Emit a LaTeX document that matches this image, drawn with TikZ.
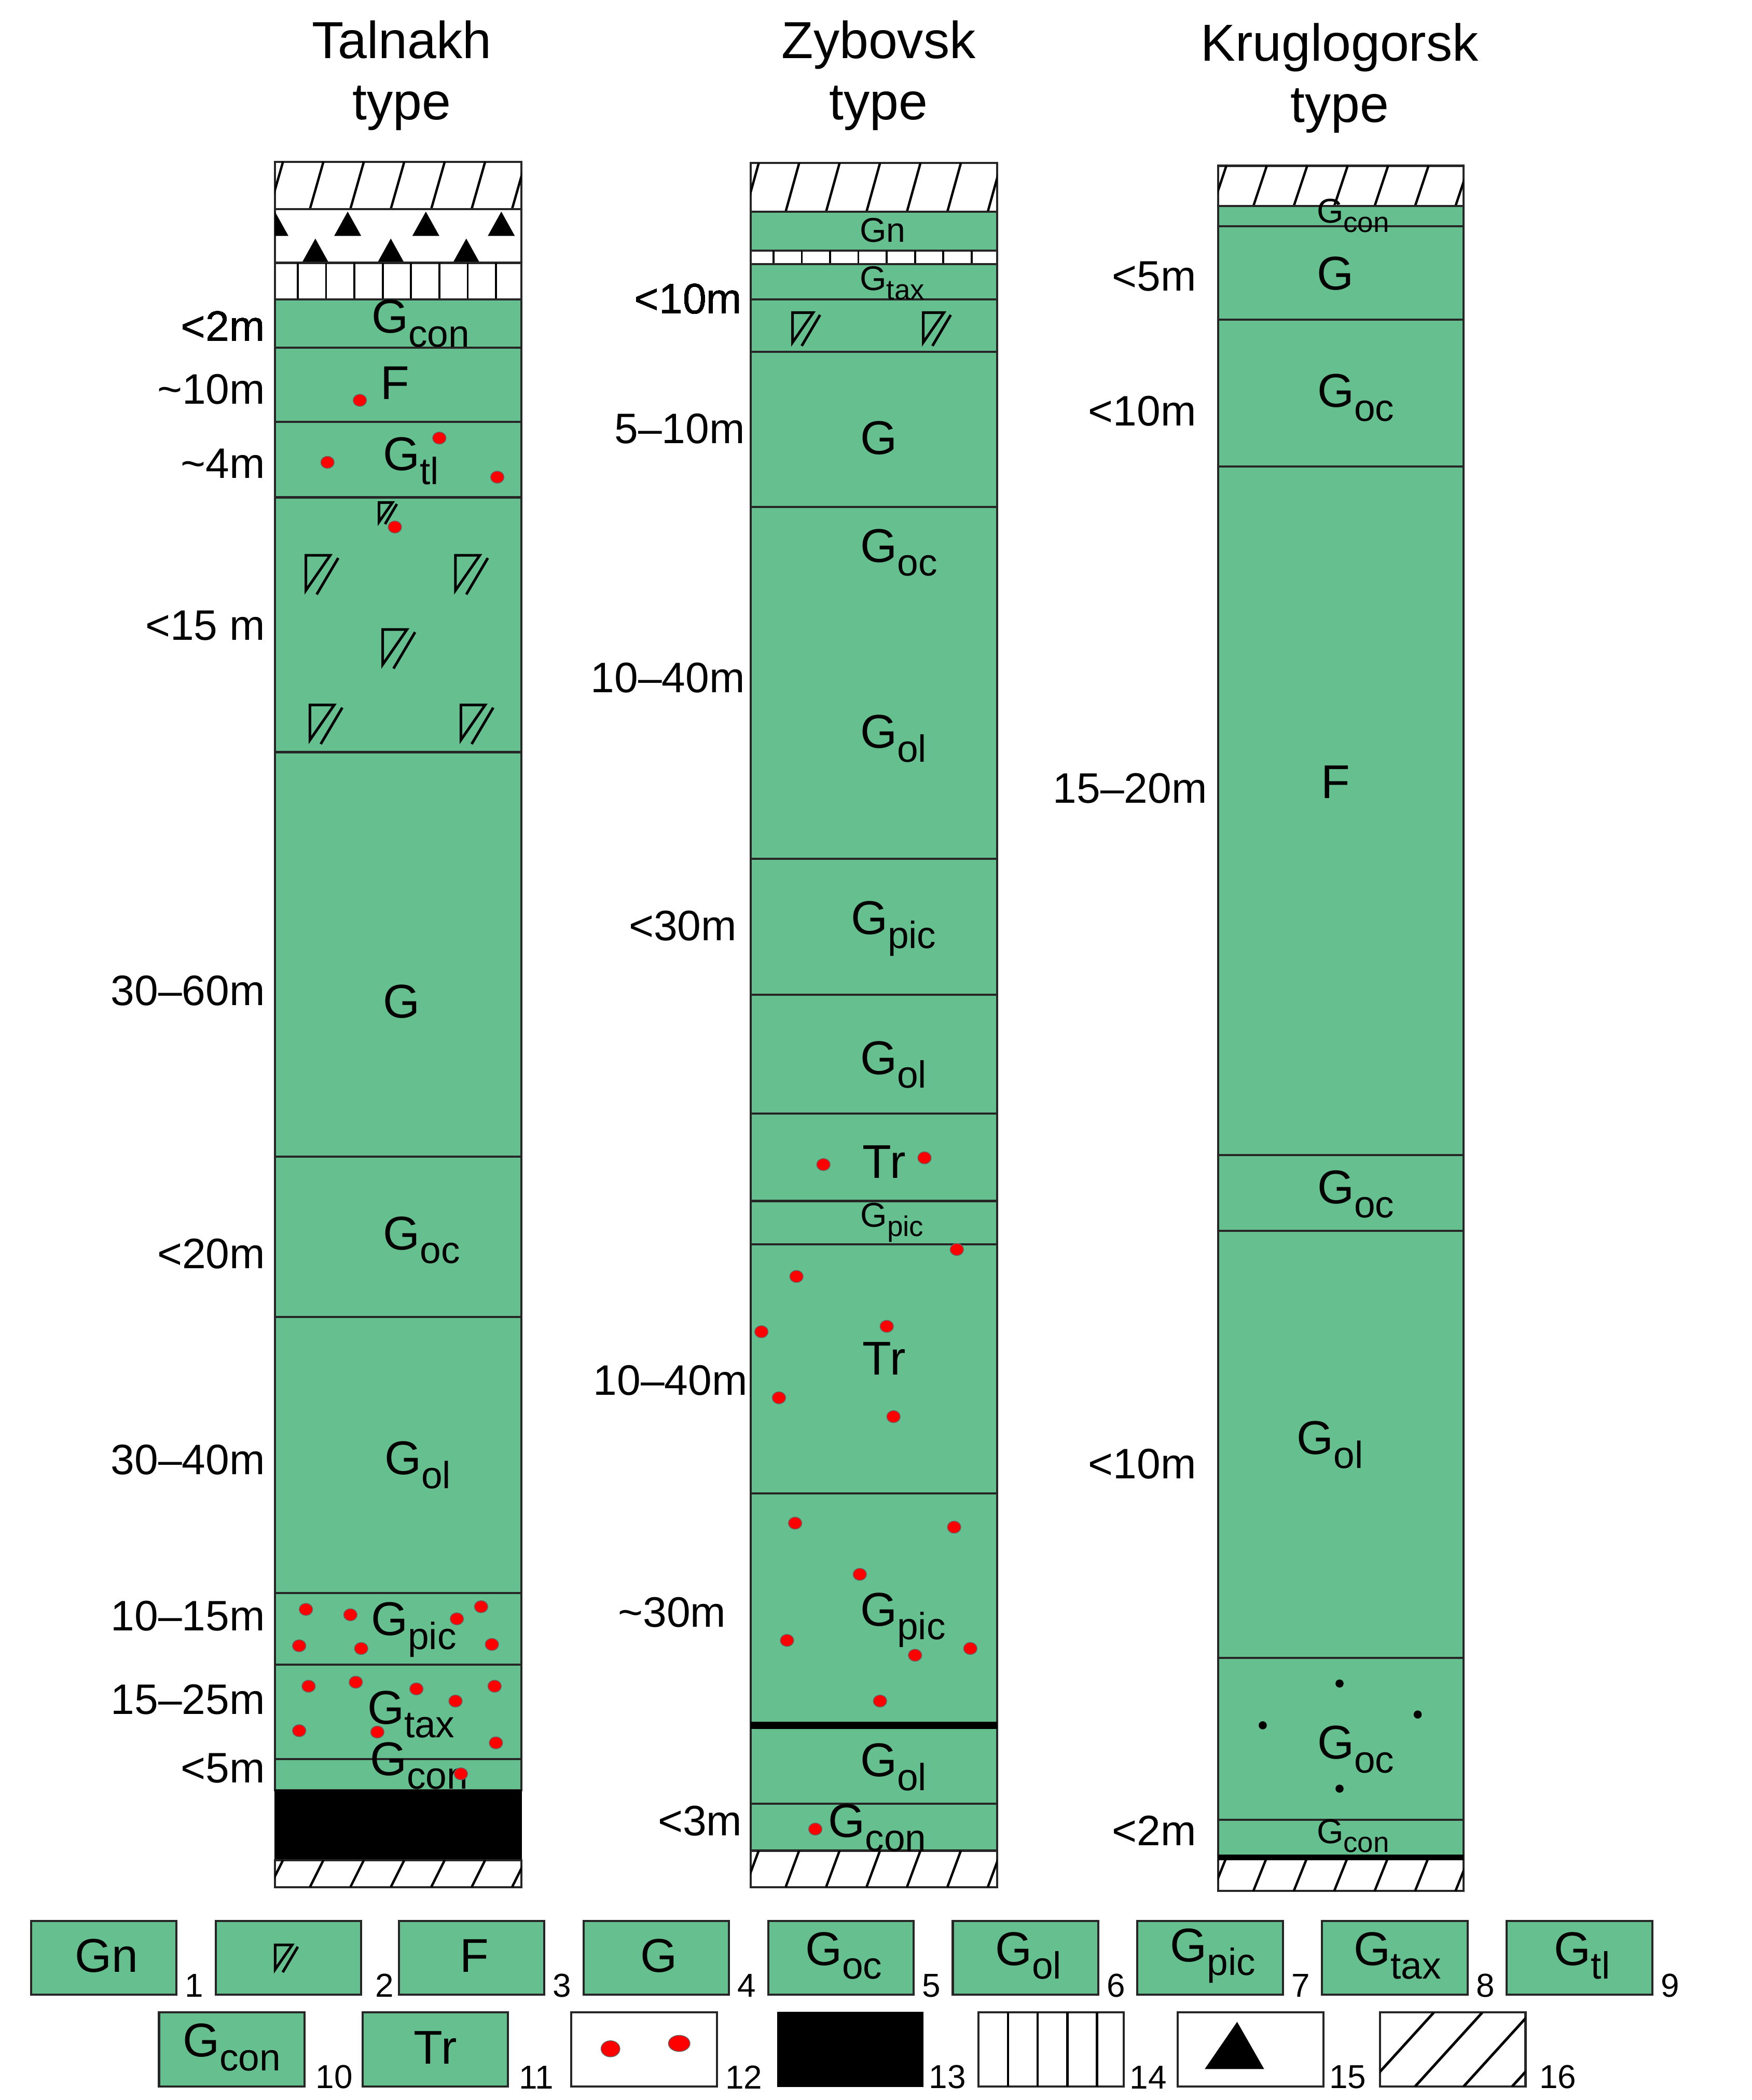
\documentclass[tikz,border=0pt]{standalone}
\usepackage{fontspec}
\setmainfont{Liberation Sans}
\definecolor{gr}{HTML}{66BF8E}
\newcommand\sbs[1]{\raisebox{-0.55ex}{\fontsize{16}{18}\selectfont #1}}
\newcommand\ssbs[1]{\raisebox{-0.5ex}{\fontsize{12}{14}\selectfont #1}}
\tikzset{
 lay/.style={fill=gr,draw=black!85,line width=0.9pt},
 wbox/.style={fill=white,draw=black!85,line width=0.9pt},
 lab/.style={font=\fontsize{20}{22}\selectfont,inner sep=0pt},
 slab/.style={font=\fontsize{14.5}{16}\selectfont,inner sep=0pt},
 thk/.style={font=\fontsize{18}{20}\selectfont,anchor=east,inner sep=0pt},
 ttl/.style={font=\fontsize{22}{26}\selectfont,align=center,inner sep=0pt},
 num/.style={font=\fontsize{14}{16}\selectfont,anchor=south west,inner sep=0pt},
 rdot/.style={fill=red,draw=black!60,line width=0.3pt},
 pics/tri/.style={code={\draw[line width=1.1pt] (-14,-13)--(4,-13)--(-14,13)--cycle; \draw[line width=1.1pt] (10,-11)--(-6,16);}}
}
\newcommand\hatch[4]{% x1 x2 ytop ybot
 \draw[wbox] (#1,#3) rectangle (#2,#4);
 \begin{scope}\clip (#1,#3) rectangle (#2,#4);
 \foreach \u in {0,30,...,200} \draw[line width=1pt] (#1+\u-4,#4)--(#1+\u+6,#3);
 \end{scope}}
\newcommand\vlines[4]{%
 \draw[wbox] (#1,#3) rectangle (#2,#4);
 \foreach \u in {17,38,...,180} \draw[line width=0.8pt] (#1+\u,#3)--(#1+\u,#4);}
\newcommand\rd[2]{\fill[rdot] (#1,#2) ellipse (5 and 4.5);}
\begin{document}
\begin{tikzpicture}[x=0.02cm,y=-0.02cm]
\useasboundingbox (0,0) rectangle (1300,1558);
% titles
\node[ttl] (t1) at (298,56) {Talnakh\\type};
\node[ttl] (t2) at (652,56) {Zybovsk\\type};
\node[ttl] (t3) at (994,58) {Kruglogorsk\\type};
% ===== Talnakh
\hatch{204}{387}{120}{155}
\draw[wbox] (204,155) rectangle (387,195);
\begin{scope}\clip (204,155) rectangle (387,195);
\foreach \u in {204,258,316,372} \fill (\u-10,175)--(\u,157)--(\u+10,175)--cycle;
\end{scope}
\foreach \u in {234,290,346} \fill (\u-10,195)--(\u,177)--(\u+10,195)--cycle;
\vlines{204}{387}{195}{222}
\draw[lay] (204,222) rectangle (387,258);
\draw[lay] (204,258) rectangle (387,313);
\draw[lay] (204,313) rectangle (387,369);
\draw[lay] (204,369) rectangle (387,558);
\draw[lay] (204,558) rectangle (387,858);
\draw[lay] (204,858) rectangle (387,977);
\draw[lay] (204,977) rectangle (387,1182);
\draw[lay] (204,1182) rectangle (387,1235);
\draw[lay] (204,1235) rectangle (387,1305);
\draw[lay] (204,1305) rectangle (387,1328);
\draw[fill=black] (204,1328) rectangle (387,1380);
\hatch{204}{387}{1380}{1400}
\node[lab] (a1) at (312,240) {G\sbs{con}};
\node[lab] (a2) at (293,284) {F};
\node[lab] (a3) at (305,342) {G\sbs{tl}};
\node[lab] (a4) at (298,743) {G};
\node[lab] (a5) at (313,920) {G\sbs{oc}};
\node[lab] (a6) at (310,1087) {G\sbs{ol}};
\node[lab] (a7) at (307,1209) {G\sbs{pic}};
\node[lab] (a8) at (305,1272) {G\sbs{tax}};
\node[lab] (a9) at (311,1310) {G\sbs{con}};
\pic[scale=0.55] at (289,380) {tri};
\foreach \p in {(241,425),(352,425),(298,480),(244,536),(356,536)} \pic at \p {tri};
\rd{267}{297}\rd{243}{343}\rd{326}{325}\rd{369}{354}\rd{293}{391}
\foreach \p/\q in {227/1194,260/1198,339/1201,357/1192,222/1221,268/1223,365/1220,
 229/1251,264/1248,309/1253,338/1262,367/1251,222/1284,280/1285,368/1293,342/1316} \rd{\p}{\q}
\node[thk] (l1) at (197,242) {<2m};
\node[thk] (l2) at (197,289) {\textasciitilde10m};
\node[thk] (l3) at (197,344) {\textasciitilde4m};
\node[thk] (l4) at (197,464) {<15 m};
\node[thk] (l5) at (197,735) {30–60m};
\node[thk] (l6) at (197,930) {<20m};
\node[thk] (l7) at (197,1083) {30–40m};
\node[thk] (l8) at (197,1199) {10–15m};
\node[thk] (l9) at (197,1261) {15–25m};
\node[thk] (l10) at (197,1312) {<5m};
% ===== Zybovsk
\hatch{557}{740}{121}{157}
\draw[lay] (557,157) rectangle (740,186);
\vlines{557}{740}{186}{196}
\draw[lay] (557,196) rectangle (740,222);
\draw[lay] (557,222) rectangle (740,261);
\draw[lay] (557,261) rectangle (740,376);
\draw[lay] (557,376) rectangle (740,637);
\draw[lay] (557,637) rectangle (740,738);
\draw[lay] (557,738) rectangle (740,826);
\draw[lay] (557,826) rectangle (740,891);
\draw[lay] (557,891) rectangle (740,923);
\draw[lay] (557,923) rectangle (740,1108);
\draw[lay] (557,1108) rectangle (740,1280);
\draw[lay] (557,1280) rectangle (740,1338);
\draw[line width=3pt] (557,1280)--(740,1280);
\draw[lay] (557,1338) rectangle (740,1373);
\hatch{557}{740}{1373}{1400}
\pic[scale=0.85] at (600,243) {tri};
\pic[scale=0.85] at (697,243) {tri};
\node[slab] (b1) at (655,171) {Gn};
\node[slab] (b2) at (662,210) {G\ssbs{tax}};
\node[lab] (b3) at (652,325) {G};
\node[lab] (b4) at (667,410) {G\sbs{oc}};
\node[lab] (b5) at (663,548) {G\sbs{ol}};
\node[lab] (b6) at (663,689) {G\sbs{pic}};
\node[lab] (b7) at (663,790) {G\sbs{ol}};
\node[lab] (b8) at (656,862) {Tr};
\node[slab] (b9) at (662,907) {G\ssbs{pic}};
\node[lab] (b10) at (656,1008) {Tr};
\node[lab] (b11) at (670,1202) {G\sbs{pic}};
\node[lab] (b12) at (663,1311) {G\sbs{ol}};
\node[lab] (b13) at (651,1356) {G\sbs{con}};
\foreach \p/\q in {611/864,686/859,710/927,591/947,658/984,565/988,578/1037,663/1051,
 590/1130,708/1133,638/1168,584/1217,679/1228,720/1223,653/1262,605/1357} \rd{\p}{\q}
\node[thk] (m1) at (551,222) {<10m};
\node[thk] (m2) at (553,318) {5–10m};
\node[thk] (m3) at (553,503) {10–40m};
\node[thk] (m4) at (547,687) {<30m};
\node[thk] (m5) at (555,1024) {10–40m};
\node[thk] (m6) at (539,1196) {\textasciitilde30m};
\node[thk] (m7) at (551,1351) {<3m};
% ===== Kruglogorsk
\hatch{904}{1086}{123}{153}
\draw[lay] (904,153) rectangle (1086,168);
\draw[lay] (904,168) rectangle (1086,237);
\draw[lay] (904,237) rectangle (1086,346);
\draw[lay] (904,346) rectangle (1086,857);
\draw[lay] (904,857) rectangle (1086,913);
\draw[lay] (904,913) rectangle (1086,1230);
\draw[lay] (904,1230) rectangle (1086,1350);
\draw[lay] (904,1350) rectangle (1086,1378);
\hatch{904}{1086}{1378}{1403}
\draw[line width=2.5pt] (904,1378)--(1086,1378);
\node[slab] (c1) at (1004,160) {G\ssbs{con}};
\node[lab] (c2) at (991,203) {G};
\node[lab] (c3) at (1006,295) {G\sbs{oc}};
\node[lab] (c4) at (991,580) {F};
\node[lab] (c5) at (1006,886) {G\sbs{oc}};
\node[lab] (c6) at (987,1072) {G\sbs{ol}};
\node[lab] (c7) at (1006,1298) {G\sbs{oc}};
\node[slab] (c8) at (1004,1362) {G\ssbs{con}};
\foreach \p in {(994,1249),(937,1280),(1052,1272),(994,1327)} \fill \p circle (3);
\node[thk] (k1) at (888,205) {<5m};
\node[thk] (k2) at (888,305) {<10m};
\node[thk] (k3) at (896,585) {15–20m};
\node[thk] (k4) at (888,1086) {<10m};
\node[thk] (k5) at (888,1358) {<2m};
% ===== Legend
\foreach \x/\t/\n in {23/Gn/1,296/F/3,433/G/4,570/G\sbs{oc}/5,707/G\sbs{ol}/6,844/G\sbs{pic}/7,981/G\sbs{tax}/8,1118/G\sbs{tl}/9}{
 \draw[lay] (\x,1425) rectangle (\x+108,1480);
 \node[lab] at (\x+56,1451) {\t};
 \node[num] at (\x+114,1482) {\n};}
\draw[lay] (160,1425) rectangle (268,1480);
\pic[scale=0.7] at (214,1452) {tri};
\node[num] (n2) at (278,1482) {2};
\foreach \x/\t/\n in {118/G\sbs{con}/10,269/Tr/11}{
 \draw[lay] (\x,1493) rectangle (\x+108,1548);
 \node[lab] at (\x+54,1519) {\t};
 \node[num] at (\x+116,1550) {\n};}
\draw[wbox] (424,1493) rectangle (532,1548);
\fill[rdot] (453,1520) ellipse (7 and 6); \fill[rdot] (504,1516) ellipse (8 and 6);
\node[num] (n12) at (538,1550) {12};
\draw[fill=black] (577,1493) rectangle (685,1548);
\node[num] (n13) at (689,1550) {13};
\draw[wbox] (726,1493) rectangle (834,1548);
\foreach \u in {22,44,...,100} \draw[line width=1pt] (726+\u,1493)--(726+\u,1548);
\node[num] (n14) at (838,1550) {14};
\draw[wbox] (874,1493) rectangle (982,1548);
\fill (894,1535)--(918,1500)--(938,1535)--cycle;
\node[num] (n15) at (986,1550) {15};
\draw[wbox] (1024,1493) rectangle (1132,1548);
\begin{scope}\clip (1024,1493) rectangle (1132,1548);
\foreach \u in {0,36,72,108} \draw[line width=1.1pt] (1024+\u-10,1548)--(1024+\u+40,1493);
\end{scope}
\node[num] (n16) at (1142,1550) {16};
\end{tikzpicture}
\end{document}
